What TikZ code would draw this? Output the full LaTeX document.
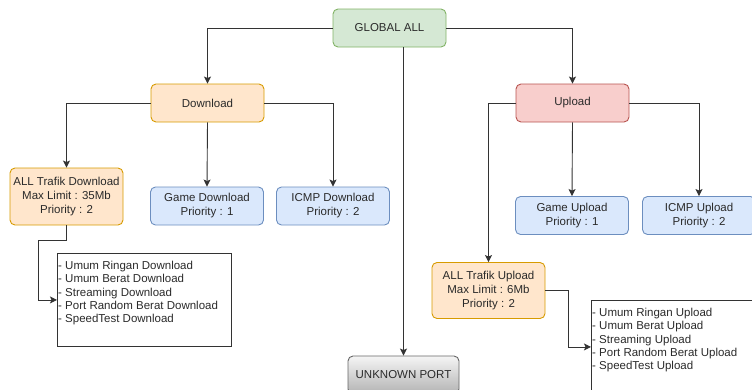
\documentclass[tikz,border=0pt]{standalone}
\usepackage{fontspec}
\setmainfont{Liberation Sans}
\usetikzlibrary{arrows.meta}

\definecolor{greenfill}{HTML}{D5E8D4}
\definecolor{greenline}{HTML}{82B366}
\definecolor{orangefill}{HTML}{FFE6CC}
\definecolor{orangeline}{HTML}{D79B00}
\definecolor{redfill}{HTML}{F8CECC}
\definecolor{redline}{HTML}{B85450}
\definecolor{bluefill}{HTML}{DAE8FC}
\definecolor{blueline}{HTML}{6C8EBF}
\definecolor{textgray}{HTML}{2A2A2A}

\tikzset{
  box/.style={draw, rounded corners=5pt, line width=0.9pt, minimum width=113pt, minimum height=38pt,
    align=center, text=textgray, font=\fontsize{11.5}{14}\selectfont},
  greenbox/.style={box, fill=greenfill, draw=greenline},
  orangebox/.style={box, fill=orangefill, draw=orangeline},
  redbox/.style={box, fill=redfill, draw=redline},
  bluebox/.style={box, fill=bluefill, draw=blueline},
  graybox/.style={box, draw=black!60, top color=black!4, bottom color=black!30, minimum width=111pt},
  listbox/.style={draw=black!80, line width=0.9pt, minimum width=174pt, minimum height=93pt, anchor=north west},
  listtext/.style={anchor=north west, align=left, inner xsep=1pt, inner ysep=8pt, text=textgray,
    font=\fontsize{11.5}{13.3}\selectfont},
  arr/.style={draw=black!80, line width=0.9pt, -{Stealth[length=7pt,width=7pt,inset=1.5pt]}}
}

\begin{document}
\begin{tikzpicture}[x=1pt, y=-1pt]
    \clip (0,0) rectangle (752,389);

    % Draw boxes
    \node[greenbox] (global) at (389.5,28) {GLOBAL ALL};
    \node[orangebox] (download) at (207.5,103) {Download};
    \node[redbox] (upload) at (572.5,103) {Upload};
    \node[orangebox, minimum height=57pt] (alldl) at (66.5,196.5) {ALL Trafik Download\\Max Limit : 35Mb\\Priority : 2};
    \node[bluebox] (gamedl) at (207,206) {Game Download\\Priority : 1};
    \node[bluebox] (icmpdl) at (333,206) {ICMP Download\\Priority : 2};
    \node[bluebox] (gameul) at (572,215.5) {Game Upload\\Priority : 1};
    \node[bluebox] (icmpul) at (699,215.5) {ICMP Upload\\Priority : 2};
    \node[orangebox, minimum height=56pt] (allul) at (488.5,290.5) {ALL Trafik Upload\\Max Limit : 6Mb\\Priority : 2};
    \node[graybox] (unknown) at (403.5,375) {UNKNOWN PORT};

    % Draw lists
    \node[listbox] (dllist) at (57,253) {};
    \node[listtext] (dltext) at (dllist.north west) {- Umum Ringan Download\\- Umum Berat Download\\- Streaming Download\\- Port Random Berat Download\\- SpeedTest Download};
    \node[listbox] (ullist) at (591,300) {};
    \node[listtext] (ultext) at (ullist.north west) {- Umum Ringan Upload\\- Umum Berat Upload\\- Streaming Upload\\- Port Random Berat Upload\\- SpeedTest Upload};

    % Draw connectors
    \draw[arr] (global.west) -| (download.north);
    \draw[arr] (global.east) -| (upload.north);
    \draw[arr] (unknown.north |- global.south) -- (unknown.north);
    \draw[arr] (download.west) -| (alldl.north);
    \draw[arr] (download.south) -- (gamedl.north);
    \draw[arr] (download.east) -| (icmpdl.north);
    \draw[arr] (upload.west) -| (allul.north);
    \draw[arr] (upload.south) -- (gameul.north);
    \draw[arr] (upload.east) -| (icmpul.north);
    \draw[arr] (alldl.south) -- ++(0,15) -| ([xshift=-19pt]dllist.west) -- (dllist.west);
    \draw[arr] (allul.east) -- ++(23,0) |- (ullist.west);

\end{tikzpicture}
\end{document}
